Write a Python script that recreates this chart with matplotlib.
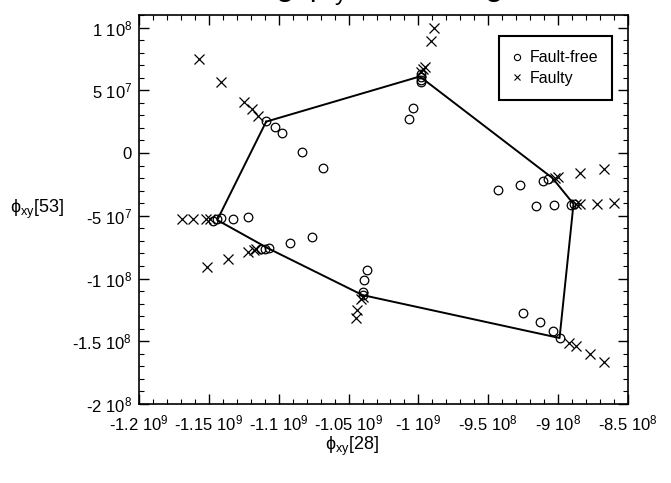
import matplotlib
matplotlib.use('Agg')
from matplotlib import pyplot
from matplotlib.lines import Line2D
from matplotlib.ticker import MultipleLocator

matplotlib.rcParams['font.family'] = ['Liberation Sans', 'DejaVu Sans']
matplotlib.rcParams['mathtext.fontset'] = 'custom'
matplotlib.rcParams['mathtext.rm'] = 'Liberation Sans'
matplotlib.rcParams['mathtext.it'] = 'Liberation Sans:italic'
matplotlib.rcParams['mathtext.bf'] = 'Liberation Sans:bold'
matplotlib.rcParams['mathtext.default'] = 'regular'

# fault-free signatures
free_x = [-1.109e9, -1.103e9, -1.098e9, -1.083e9, -1.068e9,
          -1.147e9, -1.144e9, -1.141e9, -1.133e9, -1.122e9,
          -1.113e9, -1.110e9, -1.107e9, -1.092e9, -1.076e9,
          -1.037e9, -1.039e9, -1.040e9, -1.040e9,
          -9.98e8, -9.98e8, -9.98e8, -9.98e8, -1.004e9, -1.007e9,
          -9.43e8, -9.27e8, -9.11e8, -9.07e8,
          -9.16e8, -9.03e8, -8.91e8, -8.89e8,
          -9.25e8, -9.13e8, -9.04e8, -8.99e8]
free_y = [2.55e7, 2.07e7, 1.6e7, 0.1e7, -1.19e7,
          -5.42e7, -5.26e7, -5.18e7, -5.26e7, -5.10e7,
          -7.65e7, -7.65e7, -7.57e7, -7.17e7, -6.69e7,
          -9.32e7, -1.012e8, -1.108e8, -1.132e8,
          6.30e7, 6.06e7, 5.82e7, 5.66e7, 3.59e7, 2.71e7,
          -2.95e7, -2.55e7, -2.23e7, -2.07e7,
          -4.22e7, -4.14e7, -4.14e7, -4.06e7,
          -1.275e8, -1.347e8, -1.419e8, -1.474e8]

# faulty signatures
faulty_x = [-1.157e9, -1.141e9, -1.125e9, -1.119e9, -1.115e9,
            -1.169e9, -1.161e9, -1.152e9, -1.149e9,
            -1.151e9, -1.136e9, -1.122e9, -1.118e9, -1.116e9,
            -1.045e9, -1.044e9, -1.041e9, -1.040e9,
            -9.89e8, -9.91e8, -9.95e8, -9.97e8, -9.98e8,
            -9.00e8, -9.02e8, -8.84e8, -8.67e8,
            -8.87e8, -8.84e8, -8.72e8, -8.60e8,
            -8.92e8, -8.87e8, -8.77e8, -8.67e8]
faulty_y = [7.49e7, 5.66e7, 4.07e7, 3.51e7, 2.95e7,
            -5.26e7, -5.26e7, -5.26e7, -5.26e7,
            -9.08e7, -8.45e7, -7.89e7, -7.73e7, -7.65e7,
            -1.315e8, -1.251e8, -1.163e8, -1.148e8,
            9.96e7, 8.93e7, 6.86e7, 6.70e7, 6.46e7,
            -1.91e7, -1.99e7, -1.59e7, -1.27e7,
            -4.06e7, -4.06e7, -4.06e7, -3.98e7,
            -1.514e8, -1.538e8, -1.602e8, -1.666e8]

# boundary of the fault-free region
hull_x = [-1.109e9, -9.99e8, -9.04e8, -8.89e8, -8.99e8, -1.040e9, -1.108e9, -1.144e9, -1.109e9]
hull_y = [2.5e7, 6.1e7, -2.0e7, -4.06e7, -1.474e8, -1.132e8, -7.57e7, -5.34e7, 2.5e7]

xticks = [-1.2e9, -1.15e9, -1.1e9, -1.05e9, -1e9, -9.5e8, -9e8, -8.5e8]
xticklabels = ['-1.2 10$^{9}$', '-1.15 10$^{9}$', '-1.1 10$^{9}$', '-1.05 10$^{9}$',
               '-1 10$^{9}$', '-9.5 10$^{8}$', '-9 10$^{8}$', '-8.5 10$^{8}$']
yticks = [1e8, 5e7, 0, -5e7, -1e8, -1.5e8, -2e8]
yticklabels = ['1 10$^{8}$', '5 10$^{7}$', '0', '-5 10$^{7}$', '-1 10$^{8}$',
               '-1.5 10$^{8}$', '-2 10$^{8}$']

fig = pyplot.figure(figsize=(6.71, 4.83), dpi=100)
ax = fig.add_axes([139/671, 1 - 404/483, 489/671, 389/483])

ax.plot(hull_x, hull_y, color='black', lw=1.4, zorder=2)
ax.plot(free_x, free_y, 'o', mfc='none', mec='black', ms=6.2, mew=0.9, zorder=3)
ax.plot(faulty_x, faulty_y, 'x', color='black', ms=7, mew=0.9, zorder=3)

ax.set_xlim(-1.2e9, -8.5e8)
ax.set_ylim(-2e8, 1.1e8)
ax.set_xticks(xticks)
ax.set_xticklabels(xticklabels)
ax.set_yticks(yticks)
ax.set_yticklabels(yticklabels)
ax.xaxis.set_minor_locator(MultipleLocator(1e7))
ax.yaxis.set_minor_locator(MultipleLocator(1e7))
ax.tick_params(which='both', direction='in', top=True, right=True, labelsize=12)
ax.tick_params(which='major', length=7, width=1)
ax.tick_params(which='minor', length=3.5, width=0.8)
ax.tick_params(axis='x', which='major', pad=7)
ax.tick_params(axis='y', which='major', pad=5)
for s in ax.spines.values():
    s.set_linewidth(1.2)

ax.set_xlabel(r'$\phi_{xy}$[28]', fontsize=13)
ax.xaxis.set_label_coords(0.436, -0.078)
ax.set_ylabel(r'$\phi_{xy}$[53]', fontsize=13, rotation=0, ha='center', va='center')
ax.yaxis.set_label_coords(-0.209, 0.5)

# title sits mostly above the visible area, as in the source picture
fig.text(0.53, 1 + 4.5/483, r'Using $\phi_{xy}$ for testing', fontsize=24,
         ha='center', va='baseline')

handles = [Line2D([], [], ls='none', marker='o', mfc='none', mec='black', ms=4.5, mew=0.8),
           Line2D([], [], ls='none', marker='x', color='black', ms=5, mew=0.8)]
leg = ax.legend(handles, ['Fault-free', 'Faulty'], loc='upper left',
                bbox_to_anchor=(499/671, 1 - 36/483), bbox_transform=fig.transFigure,
                borderaxespad=0, fancybox=False, edgecolor='black', framealpha=1,
                fontsize=11.5, borderpad=0.9, labelspacing=0.35, handlelength=0.4,
                handletextpad=0.6)
leg.get_frame().set_linewidth(1.5)

fig.savefig('out.png', dpi=100)
